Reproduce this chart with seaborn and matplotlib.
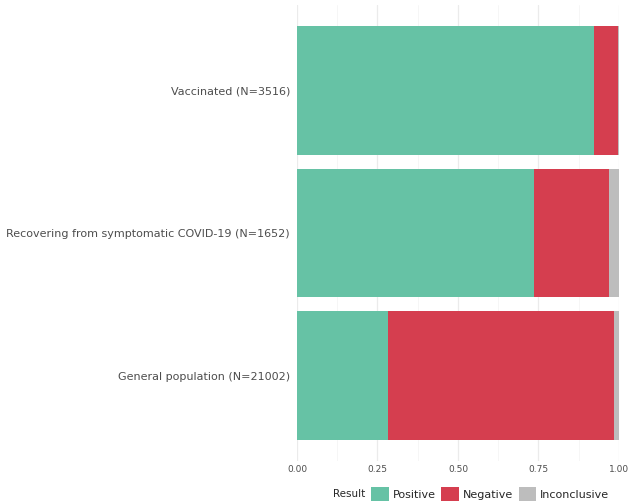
import numpy as np
import pandas as pd
import matplotlib
matplotlib.use("Agg")
import matplotlib.pyplot as plt
import seaborn as sns
from matplotlib.patches import Patch
from matplotlib.offsetbox import HPacker

groups = ["Vaccinated (N=3516)",
          "Recovering from symptomatic COVID-19 (N=1652)",
          "General population (N=21002)"]
positive = [0.922, 0.735, 0.284]
negative = [0.074, 0.235, 0.700]
inconclusive = [0.004, 0.030, 0.016]

results = ["Positive", "Negative", "Inconclusive"]
colors = ["#66c2a5", "#d53e4f", "#bdbdbd"]

df = pd.DataFrame({"group": groups, "Positive": positive,
                   "Negative": negative, "Inconclusive": inconclusive})
df["cum_pos"] = df["Positive"]
df["cum_neg"] = df["Positive"] + df["Negative"]
df["cum_inc"] = df["cum_neg"] + df["Inconclusive"]

sns.set_style("white")
plt.rcParams['font.family'] = ['DejaVu Sans']

fig = plt.figure(figsize=(6.3, 5.03), dpi=100)
ax = fig.add_axes([0.4714, 0.0835, 0.5111, 0.9065])

# stacked bars: draw the totals first, then overlay the shorter segments
for col, c in zip(["cum_inc", "cum_neg", "cum_pos"], colors[::-1]):
    sns.barplot(data=df, x=col, y="group", color=c, orient="h",
                width=0.9, saturation=1, ax=ax, linewidth=0, zorder=3)

ax.set_xlim(0, 1)
ax.set_ylim(2.6, -0.6)
ax.set_xticks([0, 0.25, 0.5, 0.75, 1.0])
ax.set_xticklabels(["0.00", "0.25", "0.50", "0.75", "1.00"])
ax.set_xticks([0.125, 0.375, 0.625, 0.875], minor=True)
ax.grid(True, which="major", color="#ebebeb", linewidth=0.9, zorder=0)
ax.grid(True, which="minor", axis="x", color="#f5f5f5", linewidth=0.6, zorder=0)
ax.set_axisbelow(True)
for s in ax.spines.values():
    s.set_visible(False)
ax.set_xlabel("")
ax.set_ylabel("")
ax.tick_params(axis="x", labelsize=6.5, colors="#4d4d4d", length=0, pad=3)
ax.tick_params(axis="y", labelsize=8, colors="#4d4d4d", length=0, pad=5)
ax.tick_params(which="minor", length=0)

handles = [Patch(facecolor=c, edgecolor="none", label=r) for r, c in zip(results, colors)]
leg = fig.legend(handles=handles, title="Result", loc="center",
                 bbox_to_anchor=(0.748, 0.018), ncol=3, frameon=False,
                 fontsize=8, title_fontsize=7.5, handlelength=1.6,
                 handleheight=1.6, handletextpad=0.35, columnspacing=0.5,
                 borderpad=0)
# put title beside the entries
title_box = leg._legend_box._children[0]
entries_box = leg._legend_box._children[1]
leg._legend_box._children = [HPacker(children=[title_box, entries_box], pad=0, sep=4, align="center")]

fig.savefig("out.png", dpi=100)
